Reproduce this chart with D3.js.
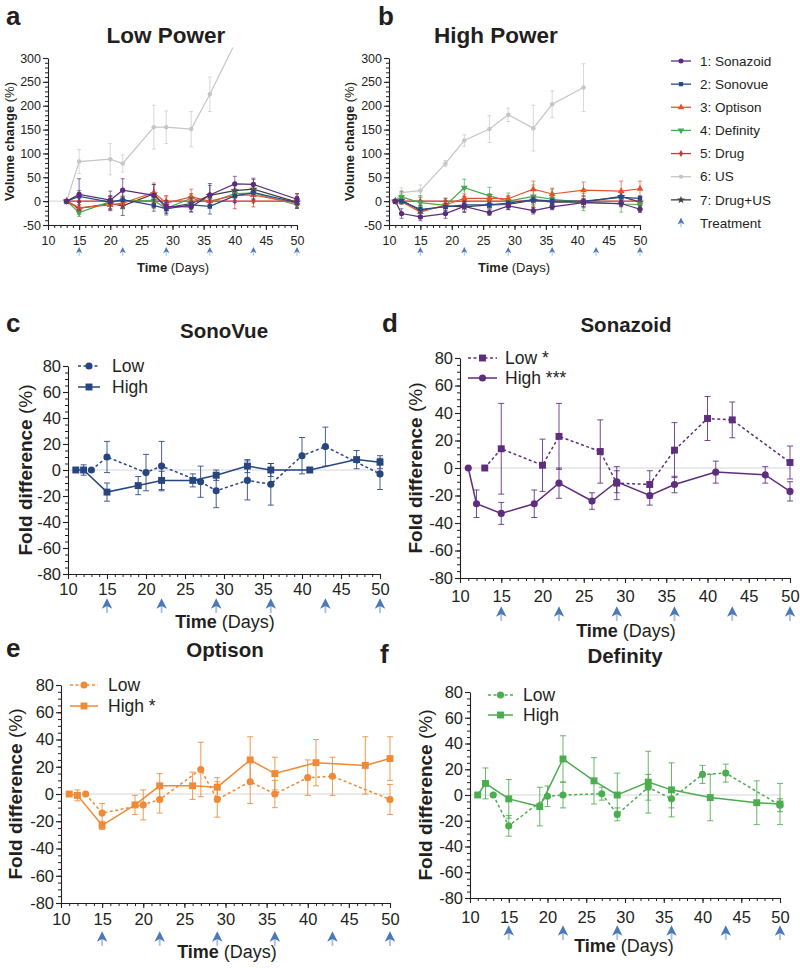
<!DOCTYPE html>
<html>
<head>
<meta charset="utf-8">
<script src="https://cdn.jsdelivr.net/npm/d3@7"></script>
<style>
  body { margin: 0; background: #fff; }
  text { font-family: "Liberation Sans", Arial, sans-serif; fill: #231f20; }
</style>
</head>
<body>
<svg width="800" height="968"></svg>
<script>
// ---- data ----
const lowDays = [13, 15, 20, 22, 27, 29, 33, 36, 40, 43, 50];
const highDays = [11, 12, 15, 19, 22, 26, 29, 33, 36, 41, 47, 50];
const treatmentDays = [15, 22, 29, 36, 43, 50];
const xTickLabels = [10, 15, 20, 25, 30, 35, 40, 45, 50];
const volumeTicks = [-50, 0, 50, 100, 150, 200, 250, 300];
const foldTicks = [-80, -60, -40, -20, 0, 20, 40, 60, 80];

const sonazoidLow = [0, 14, 2, 23, 12, -11, -12, 13, 36, 35, 4];
const sonazoidLowErr = [0, 33, 19, 24, 23, 12, 10, 20, 16, 13, 12];
const sonazoidHigh = [0, -26, -33, -26, -11, -24, -10, -20, -12, -3, -5, -17];
const sonazoidHighErr = [0, 10, 8, 10, 11, 6, 8, 7, 6, 8, 6, 7];

const sonovueLow = [0, 10, -2, 3, -9, -16, -8, -11, 11, 18, -3];
const sonovueLowErr = [0, 12, 14, 19, 12, 13, 15, 16, 14, 15, 12];
const sonovueHigh = [0, 0, -17, -12, -8, -8, -4, 3, 0, 0, 8, 6];
const sonovueHighErr = [0, 4, 7, 7, 7, 5, 4, 5, 5, 2, 7, 5];

const optisonLow = [0, -14, -8, -4, 18, -4, 9, 0, 12, 13, -4];
const optisonLowErr = [0, 7, 11, 10, 20, 13, 16, 10, 13, 14, 11];
const optisonHigh = [0, -1, -23, -8, 6, 6, 5, 25, 15, 23, 21, 26];
const optisonHighErr = [0, 4, 3, 7, 9, 10, 7, 17, 12, 17, 21, 16];

const definityLow = [0, -24, -1, 0, 1, -15, 6, -3, 16, 17, -8];
const definityLowErr = [0, 8, 8, 10, 5, 5, 10, 7, 7, 7, 5];
const definityHigh = [0, 9, -3, -9, 28, 11, 0, 10, 4, -2, -6, -7];
const definityHighErr = [0, 12, 15, 15, 18, 18, 17, 24, 21, 18, 17, 16];

const drugLow = [0, 0, 0, 0, 0, 0, 0, 0, 0, 0, 0];
const drugLowErr = [0, 8, 10, 10, 15, 12, 15, 12, 16, 12, 15];
const drugHigh = [0, 0, 0, 0, 0, 0, 0, 0, 0, 0, 0, 0];
const drugHighErr = [0, 6, 8, 6, 10, 8, 10, 12, 10, 12, 12, 10];

const drugUsLow = [0, -15, -5, -10, 15, -14, -5, 12, 22, 25, -2];
const drugUsLowErr = [0, 12, 15, 20, 20, 12, 12, 25, 15, 20, 12];
const drugUsHigh = [0, 2, -20, -10, -12, -8, -7, 2, -2, -2, 10, -2];
const drugUsHighErr = [0, 8, 10, 10, 12, 8, 10, 10, 10, 12, 12, 8];

const usLowDays = [13, 15, 20, 22, 27, 29, 33, 36, 40];
const usLow = [0, 83, 88, 79, 155, 155, 151, 224, 330];
const usLowErr = [0, 25, 33, 18, 46, 34, 37, 36, 0];
const usHighDays = [11, 12, 15, 19, 22, 26, 29, 33, 36, 41];
const usHigh = [0, 18, 22, 79, 127, 151, 181, 153, 203, 238];
const usHighErr = [0, 10, 12, 6, 12, 28, 14, 48, 28, 50];

const groupNames = ['1: Sonazoid', '2: Sonovue', '3: Optison', '4: Definity', '5: Drug', '6: US', '7: Drug+US'];

// ---- drawing ----
const svg = d3.select('svg');
const defs = svg.append('defs');
const ink = '#231f20';

const col = {
  sonazoid: '#5b2c7c', sonovue: '#274a8a', optison: '#e5532e', definity: '#46a84a',
  drug: '#d8302a', us: '#c6c6c6', drugUs: '#3d3d3d',
  optisonE: '#ef8a37', definityF: '#4cad50', sonovueC: '#27457f', sonazoidD: '#5e2d7e'
};

const drawArrow = (g, cx, cy, s) => {
  const a = g.append('g').attr('transform', `translate(${cx},${cy}) scale(${s})`);
  a.append('path').attr('d', 'M-0.9,1L0.9,1L0.9,7.5L-0.9,7.5Z').attr('fill', '#a9c2e2');
  a.append('path').attr('d', 'M0,-6.5L5,3.5L0,1L-5,3.5Z').attr('fill', '#4a78b8');
};

const markerPath = (sel, s) => {
  sel.attr('d', d3.symbol().type(s.symbol).size(s.size))
    .attr('fill', s.color);
};

const drawPanel = cfg => {
  const g = svg.append('g');
  const x = d3.scaleLinear().domain([10, 50]).range([cfg.left, cfg.right]);
  const y = d3.scaleLinear().domain(cfg.yDomain).range([cfg.bottom, cfg.top]);

  g.append('line')
    .attr('x1', x(10)).attr('x2', x(50))
    .attr('y1', y(0)).attr('y2', y(0))
    .attr('stroke', '#d6d6d6').attr('stroke-width', 1);

  // minor ticks
  g.append('g').attr('transform', `translate(0,${cfg.bottom})`)
    .call(d3.axisBottom(x).tickValues(d3.range(10, 51)).tickSize(3).tickFormat(''))
    .call(a => a.select('.domain').remove())
    .call(a => a.selectAll('line').attr('stroke', ink));
  g.append('g').attr('transform', `translate(${cfg.left},0)`)
    .call(d3.axisLeft(y).tickValues(d3.range(cfg.yDomain[0], cfg.yDomain[1] + 1, cfg.yMinor)).tickSize(3).tickFormat(''))
    .call(a => a.select('.domain').remove())
    .call(a => a.selectAll('line').attr('stroke', ink));

  const xa = g.append('g').attr('transform', `translate(0,${cfg.bottom})`)
    .call(d3.axisBottom(x).tickValues(xTickLabels).tickSize(5).tickSizeOuter(0).tickPadding(cfg.xPad).tickFormat(d => String(d)));
  const ya = g.append('g').attr('transform', `translate(${cfg.left},0)`)
    .call(d3.axisLeft(y).tickValues(cfg.yTicks).tickSize(5).tickSizeOuter(0).tickPadding(cfg.yPad).tickFormat(d => String(d)));
  [xa, ya].forEach(a => {
    a.selectAll('text').attr('font-size', cfg.tickFont).attr('font-family', '"Liberation Sans", Arial, sans-serif').attr('fill', ink);
    a.selectAll('line,path').attr('stroke', ink).attr('stroke-width', 1.1);
  });

  const clipId = 'clip-' + cfg.letter;
  defs.append('clipPath').attr('id', clipId).append('rect')
    .attr('x', cfg.left - 10).attr('y', cfg.clipTop)
    .attr('width', cfg.right - cfg.left + 20).attr('height', cfg.bottom + 10 - cfg.clipTop);
  const plot = g.append('g').attr('clip-path', `url(#${clipId})`);

  cfg.series.forEach(s => {
    const pts = s.days.map((d, i) => ({ d, v: s.vals[i], e: s.errs[i] }));
    const sg = plot.append('g');
    pts.filter(p => p.e > 0).forEach(p => {
      const px = x(p.d);
      sg.append('line').attr('x1', px).attr('x2', px)
        .attr('y1', y(p.v - p.e)).attr('y2', y(p.v + p.e))
        .attr('stroke', s.color).attr('stroke-width', cfg.errWidth).attr('opacity', 0.85);
      [p.v - p.e, p.v + p.e].forEach(v => {
        sg.append('line').attr('x1', px - cfg.cap).attr('x2', px + cfg.cap)
          .attr('y1', y(v)).attr('y2', y(v))
          .attr('stroke', s.color).attr('stroke-width', cfg.errWidth).attr('opacity', 0.85);
      });
    });
    sg.append('path').datum(pts)
      .attr('d', d3.line().x(p => x(p.d)).y(p => y(p.v)))
      .attr('fill', 'none').attr('stroke', s.color)
      .attr('stroke-width', cfg.lineWidth)
      .attr('stroke-dasharray', s.dashed ? '3,2.5' : null);
    sg.selectAll('path.m').data(pts).enter().append('path').attr('class', 'm')
      .attr('transform', p => `translate(${x(p.d)},${y(p.v)})${s.flip ? ' rotate(180)' : ''}`)
      .call(markerPath, s);
  });

  treatmentDays.forEach(d => drawArrow(g, x(d), cfg.arrowY, cfg.arrowScale));

  const t = g.append('text').attr('x', cfg.timeX).attr('y', cfg.timeY)
    .attr('text-anchor', 'middle').attr('font-size', cfg.timeFont);
  t.append('tspan').attr('font-weight', 'bold').text('Time');
  t.append('tspan').text(' (Days)');

  const yl = g.append('text')
    .attr('transform', `translate(${cfg.yLabelX},${(cfg.top + cfg.bottom) / 2}) rotate(-90)`)
    .attr('text-anchor', 'middle').attr('dominant-baseline', 'central')
    .attr('font-size', cfg.yLabelFont);
  yl.append('tspan').attr('font-weight', 'bold').text(cfg.yLabel);
  yl.append('tspan').text(' (%)');

  g.append('text').attr('x', cfg.titleX).attr('y', cfg.titleY)
    .attr('text-anchor', 'middle').attr('font-weight', 'bold')
    .attr('font-size', cfg.titleFont).text(cfg.title);
  g.append('text').attr('x', cfg.letterX).attr('y', cfg.letterY)
    .attr('font-weight', 'bold').attr('font-size', 26).text(cfg.letter);

  if (cfg.legend) {
    const L = cfg.legend;
    cfg.series.forEach((s, i) => {
      const ly = L.ys[i];
      g.append('line').attr('x1', L.x1).attr('x2', L.x2).attr('y1', ly).attr('y2', ly)
        .attr('stroke', s.color).attr('stroke-width', cfg.lineWidth)
        .attr('stroke-dasharray', s.dashed ? '3,2.5' : null);
      g.append('path').attr('transform', `translate(${(L.x1 + L.x2) / 2},${ly})`).call(markerPath, s);
      g.append('text').attr('x', L.textX).attr('y', ly).attr('dy', '0.35em')
        .attr('font-size', 17.5).text(L.labels[i]);
    });
  }
};

// shared settings for the two volume panels
const topPanel = {
  top: 58, bottom: 225, yDomain: [-50, 300], yTicks: volumeTicks, yMinor: 10,
  tickFont: 12.5, xPad: 6, yPad: 2, arrowY: 251, arrowScale: 0.62,
  timeY: 272, timeFont: 13, yLabel: 'Volume change', yLabelFont: 13,
  titleY: 43, titleFont: 22.5, letterY: 25, lineWidth: 1.2, errWidth: 0.8, cap: 2, clipTop: 47.5
};

const volSeries = (days, us, usErr, usDays, sets) => [
  { days: usDays, vals: us, errs: usErr, color: col.us, symbol: d3.symbolCircle, size: 16 },
  { days, vals: sets.drugUs[0], errs: sets.drugUs[1], color: col.drugUs, symbol: d3.symbolStar, size: 22 },
  { days, vals: sets.drug[0], errs: sets.drug[1], color: col.drug, symbol: d3.symbolDiamond, size: 16 },
  { days, vals: sets.definity[0], errs: sets.definity[1], color: col.definity, symbol: d3.symbolTriangle, size: 20, flip: true },
  { days, vals: sets.optison[0], errs: sets.optison[1], color: col.optison, symbol: d3.symbolTriangle, size: 20 },
  { days, vals: sets.sonovue[0], errs: sets.sonovue[1], color: col.sonovue, symbol: d3.symbolSquare, size: 20 },
  { days, vals: sets.sonazoid[0], errs: sets.sonazoid[1], color: col.sonazoid, symbol: d3.symbolCircle, size: 22 }
];

drawPanel(Object.assign({}, topPanel, {
  left: 48, right: 297, timeX: 173, yLabelX: 9, title: 'Low Power', titleX: 166, letter: 'a', letterX: 6,
  series: volSeries(lowDays, usLow, usLowErr, usLowDays, {
    drugUs: [drugUsLow, drugUsLowErr], drug: [drugLow, drugLowErr], definity: [definityLow, definityLowErr],
    optison: [optisonLow, optisonLowErr], sonovue: [sonovueLow, sonovueLowErr], sonazoid: [sonazoidLow, sonazoidLowErr]
  })
}));

drawPanel(Object.assign({}, topPanel, {
  left: 389, right: 640, timeX: 514, yLabelX: 349, title: 'High Power', titleX: 496, letter: 'b', letterX: 378,
  series: volSeries(highDays, usHigh, usHighErr, usHighDays, {
    drugUs: [drugUsHigh, drugUsHighErr], drug: [drugHigh, drugHighErr], definity: [definityHigh, definityHighErr],
    optison: [optisonHigh, optisonHighErr], sonovue: [sonovueHigh, sonovueHighErr], sonazoid: [sonazoidHigh, sonazoidHighErr]
  })
}));

// legend for a/b
const legendSymbols = [
  { color: col.sonazoid, symbol: d3.symbolCircle, size: 20 },
  { color: col.sonovue, symbol: d3.symbolSquare, size: 18 },
  { color: col.optison, symbol: d3.symbolTriangle, size: 18 },
  { color: col.definity, symbol: d3.symbolTriangle, size: 18, flip: true },
  { color: col.drug, symbol: d3.symbolDiamond, size: 14 },
  { color: col.us, symbol: d3.symbolCircle, size: 14 },
  { color: col.drugUs, symbol: d3.symbolStar, size: 20 }
];
const legY = d3.scalePoint().domain(d3.range(8)).range([61, 223]);
const leg = svg.append('g');
groupNames.forEach((name, i) => {
  const s = legendSymbols[i];
  leg.append('line').attr('x1', 671).attr('x2', 691).attr('y1', legY(i)).attr('y2', legY(i))
    .attr('stroke', s.color).attr('stroke-width', 1.3);
  leg.append('path').attr('transform', `translate(681,${legY(i)})${s.flip ? ' rotate(180)' : ''}`).call(markerPath, s);
  leg.append('text').attr('x', 700).attr('y', legY(i)).attr('dy', '0.35em').attr('font-size', 13.5).text(name);
});
drawArrow(leg, 681, legY(7) - 1, 0.7);
leg.append('text').attr('x', 700).attr('y', legY(7)).attr('dy', '0.35em').attr('font-size', 13.5).text('Treatment');

// fold difference panels
const foldPanel = {
  yDomain: [-80, 80], yTicks: foldTicks, yMinor: 5, tickFont: 16.5, yPad: 2,
  arrowScale: 1.05, timeFont: 18, yLabel: 'Fold difference', yLabelFont: 19,
  titleFont: 20.5, lineWidth: 1.5, errWidth: 1, cap: 3, clipTop: 0
};

const foldSeries = (color, low, lowErr, high, highErr, lowSym, highSym) => [
  { days: lowDays, vals: low, errs: lowErr, color, symbol: lowSym, size: lowSym === d3.symbolSquare ? 48 : 40, dashed: true },
  { days: highDays, vals: high, errs: highErr, color, symbol: highSym, size: highSym === d3.symbolSquare ? 48 : 40 }
];

drawPanel(Object.assign({}, foldPanel, {
  left: 68, right: 380, top: 366, bottom: 574, xPad: 4, arrowY: 605,
  timeX: 225, timeY: 628, yLabelX: 25, title: 'SonoVue', titleX: 224, titleY: 338, letter: 'c', letterX: 6, letterY: 332,
  series: foldSeries(col.sonovueC, sonovueLow, sonovueLowErr, sonovueHigh, sonovueHighErr, d3.symbolCircle, d3.symbolSquare),
  legend: { x1: 78, x2: 100, ys: [366, 387], textX: 112, labels: ['Low', 'High'] }
}));

drawPanel(Object.assign({}, foldPanel, {
  left: 460, right: 790, top: 358, bottom: 578, xPad: 7, arrowY: 613,
  timeX: 626, timeY: 637, yLabelX: 415, title: 'Sonazoid', titleX: 626, titleY: 332, letter: 'd', letterX: 382, letterY: 332,
  series: foldSeries(col.sonazoidD, sonazoidLow, sonazoidLowErr, sonazoidHigh, sonazoidHighErr, d3.symbolSquare, d3.symbolCircle),
  legend: { x1: 468, x2: 497, ys: [358, 378], textX: 505, labels: ['Low *', 'High ***'] }
}));

drawPanel(Object.assign({}, foldPanel, {
  left: 61, right: 390, top: 685, bottom: 903, xPad: 5, arrowY: 938,
  timeX: 227, timeY: 958, yLabelX: 15, title: 'Optison', titleX: 225, titleY: 657, letter: 'e', letterX: 6, letterY: 657,
  series: foldSeries(col.optisonE, optisonLow, optisonLowErr, optisonHigh, optisonHighErr, d3.symbolCircle, d3.symbolSquare),
  legend: { x1: 70, x2: 98, ys: [685, 706], textX: 108, labels: ['Low', 'High *'] }
}));

drawPanel(Object.assign({}, foldPanel, {
  left: 470, right: 780, top: 692, bottom: 898, xPad: 8, arrowY: 932,
  timeX: 624, timeY: 952, yLabelX: 425, title: 'Definity', titleX: 625, titleY: 663, letter: 'f', letterX: 380, letterY: 663,
  series: foldSeries(col.definityF, definityLow, definityLowErr, definityHigh, definityHighErr, d3.symbolCircle, d3.symbolSquare),
  legend: { x1: 488, x2: 513, ys: [695, 715], textX: 523, labels: ['Low', 'High'] }
}));
</script>
</body>
</html>
